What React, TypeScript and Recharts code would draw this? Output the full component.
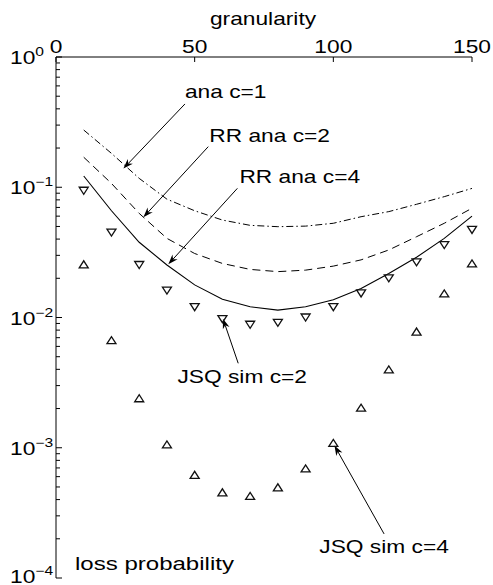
import { ComposedChart, Line, XAxis, YAxis, ReferenceLine } from "recharts";

const FONT = "Liberation Sans, Arial, Helvetica, sans-serif";

// granularity (x) and loss probability per curve
const granularity = [10, 20, 30, 40, 50, 60, 70, 80, 90, 100, 110, 120, 130, 140, 150];
const anaC1 = [0.275, 0.182, 0.117, 0.081, 0.066, 0.056, 0.051, 0.0498, 0.0503, 0.0529, 0.0594, 0.065, 0.074, 0.0847, 0.098];
const rrAnaC2 = [0.17, 0.107, 0.063, 0.0405, 0.031, 0.026, 0.0234, 0.0225, 0.0231, 0.0248, 0.0277, 0.033, 0.0417, 0.0529, 0.069];
const rrAnaC4 = [0.122, 0.066, 0.0378, 0.0253, 0.0178, 0.0138, 0.0121, 0.0114, 0.0121, 0.0137, 0.0167, 0.0218, 0.029, 0.0405, 0.06];
const jsqSimC2 = [0.094, 0.0448, 0.0253, 0.0161, 0.012, 0.0097, 0.0088, 0.0091, 0.01, 0.012, 0.0153, 0.02, 0.0265, 0.036, 0.047];
const jsqSimC4 = [0.0256, 0.0067, 0.0024, 0.00106, 0.00062, 0.000455, 0.000427, 0.000497, 0.000695, 0.00109, 0.00203, 0.004, 0.0078, 0.0153, 0.026];

const xTicks = [0, 50, 100, 150];
const yExponents = [-4, -3, -2, -1, 0];
const yMinorSteps = [2, 3, 4, 5, 6, 7, 8, 9];

// annotation arrows: tail -> tip in data coordinates
const notes = [
  { label: "ana c=1", tail: [46.5, 0.436], tip: [24.3, 0.139], dx: 0, dy: -6, anchor: "start" },
  { label: "RR ana c=2", tail: [54.9, 0.205], tip: [31.5, 0.0588], dx: 1, dy: -5, anchor: "start" },
  { label: "RR ana c=4", tail: [65.4, 0.0981], tip: [40.5, 0.0256], dx: 2, dy: -5, anchor: "start" },
  { label: "JSQ sim c=2", tail: [65.7, 0.00445], tip: [60.2, 0.0098], dx: 4, dy: 20, anchor: "middle" },
  { label: "JSQ sim c=4", tail: [118.3, 0.000218], tip: [100.4, 0.00104], dx: 0, dy: 19, anchor: "middle" },
];

const data = granularity.map((g, i) => ({
  g,
  ana1: anaC1[i],
  rr2: rrAnaC2[i],
  rr4: rrAnaC4[i],
  jsq2: jsqSimC2[i],
  jsq4: jsqSimC4[i],
}));

const yTicks: number[] = [];
yExponents.forEach((e) => {
  yTicks.push(Math.pow(10, e));
  if (e < 0) yMinorSteps.forEach((m) => yTicks.push(m * Math.pow(10, e)));
});

function XTick(props: any) {
  const { x, y, payload } = props;
  return (
    <g>
      <line x1={x} x2={x} y1={y} y2={y + 5} stroke="#000" />
      <text transform={`translate(${x},${y - 4}) scale(1.3,1)`} textAnchor="middle" fontSize={17.5} fontFamily={FONT} fill="#000">
        {payload.value}
      </text>
    </g>
  );
}

function YTick(props: any) {
  const { x, y, payload } = props;
  const lg = Math.log10(payload.value);
  const exp = Math.round(lg);
  const major = Math.abs(lg - exp) < 1e-6;
  // keep the bottom label inside the picture
  const base = exp === -4 ? y + 5 : y + 7;
  return (
    <g>
      <line x1={x} x2={x + (major ? 6 : 4)} y1={y} y2={y} stroke="#000" />
      {major && (
        <text transform={`translate(${x - 46},${base}) scale(1.3,1)`} fontSize={17.5} fontFamily={FONT} fill="#000">
          10
          <tspan dy={-8} fontSize={12}>{exp === 0 ? "0" : "\u2212" + -exp}</tspan>
        </text>
      )}
    </g>
  );
}

function DownTri(props: any) {
  const { cx, cy } = props;
  if (cx == null || cy == null) return null;
  return <polygon points={`${cx - 4.5},${cy - 3.5} ${cx + 4.5},${cy - 3.5} ${cx},${cy + 3.5}`} fill="none" stroke="#111" strokeWidth={1.3} />;
}

function UpTri(props: any) {
  const { cx, cy } = props;
  if (cx == null || cy == null) return null;
  return <polygon points={`${cx - 4.5},${cy + 3.5} ${cx + 4.5},${cy + 3.5} ${cx},${cy - 3.5}`} fill="none" stroke="#111" strokeWidth={1.3} />;
}

function arrowShape(note: any) {
  return (props: any) => {
    const { x1, y1, x2, y2 } = props;
    const ang = Math.atan2(y2 - y1, x2 - x1);
    const ux = Math.cos(ang);
    const uy = Math.sin(ang);
    const L = 10, W = 3.5, N = 7;
    const bx = x2 - ux * L;
    const by = y2 - uy * L;
    const pts = `${x2},${y2} ${bx - uy * W},${by + ux * W} ${x2 - ux * N},${y2 - uy * N} ${bx + uy * W},${by - ux * W}`;
    return (
      <g>
        <line x1={x1} y1={y1} x2={x2 - ux * N} y2={y2 - uy * N} stroke="#000" strokeWidth={1} />
        <polygon points={pts} fill="#000" />
        <text
          transform={`translate(${x1 + note.dx},${y1 + note.dy}) scale(1.3,1)`}
          textAnchor={note.anchor}
          fontSize={17.5}
          fontFamily={FONT}
          fill="#000"
        >
          {note.label}
        </text>
      </g>
    );
  };
}

export default function App() {
  return (
    <div style={{ position: "absolute", left: 0, top: 0, width: 493, height: 585, background: "#fff" }}>
      <ComposedChart width={493} height={585} data={data} margin={{ top: 0, right: 21, bottom: 7, left: 0 }}>
        <XAxis
          dataKey="g"
          type="number"
          orientation="top"
          domain={[0, 150]}
          ticks={xTicks}
          interval={0}
          height={57}
          tickSize={0}
          tickMargin={0}
          tickLine={false}
          axisLine={{ stroke: "#000" }}
          tick={<XTick />}
        />
        <YAxis
          type="number"
          scale="log"
          domain={[1e-4, 1]}
          allowDataOverflow
          ticks={yTicks}
          interval={0}
          width={56}
          tickSize={0}
          tickMargin={0}
          tickLine={false}
          axisLine={{ stroke: "#000" }}
          tick={<YTick />}
        />
        <Line dataKey="ana1" type="linear" stroke="#000" strokeWidth={1} strokeDasharray="7 3 1.5 3" dot={false} activeDot={false} isAnimationActive={false} />
        <Line dataKey="rr2" type="linear" stroke="#000" strokeWidth={1} strokeDasharray="8 5" dot={false} activeDot={false} isAnimationActive={false} />
        <Line dataKey="rr4" type="linear" stroke="#000" strokeWidth={1.1} dot={false} activeDot={false} isAnimationActive={false} />
        <Line dataKey="jsq2" stroke="none" dot={(p: any) => <DownTri key={"d" + p.index} {...p} />} activeDot={false} isAnimationActive={false} />
        <Line dataKey="jsq4" stroke="none" dot={(p: any) => <UpTri key={"u" + p.index} {...p} />} activeDot={false} isAnimationActive={false} />
        {notes.map((n) => (
          <ReferenceLine
            key={n.label}
            segment={[
              { x: n.tail[0], y: n.tail[1] },
              { x: n.tip[0], y: n.tip[1] },
            ]}
            shape={arrowShape(n)}
          />
        ))}
      </ComposedChart>
      <svg width={493} height={585} style={{ position: "absolute", left: 0, top: 0, pointerEvents: "none" }}>
        <text transform="translate(263,25) scale(1.3,1)" textAnchor="middle" fontSize={17.5} fontFamily={FONT} fill="#000">
          granularity
        </text>
        <text transform="translate(75,570) scale(1.3,1)" fontSize={18.5} fontFamily={FONT} fill="#000">
          loss probability
        </text>
      </svg>
    </div>
  );
}
